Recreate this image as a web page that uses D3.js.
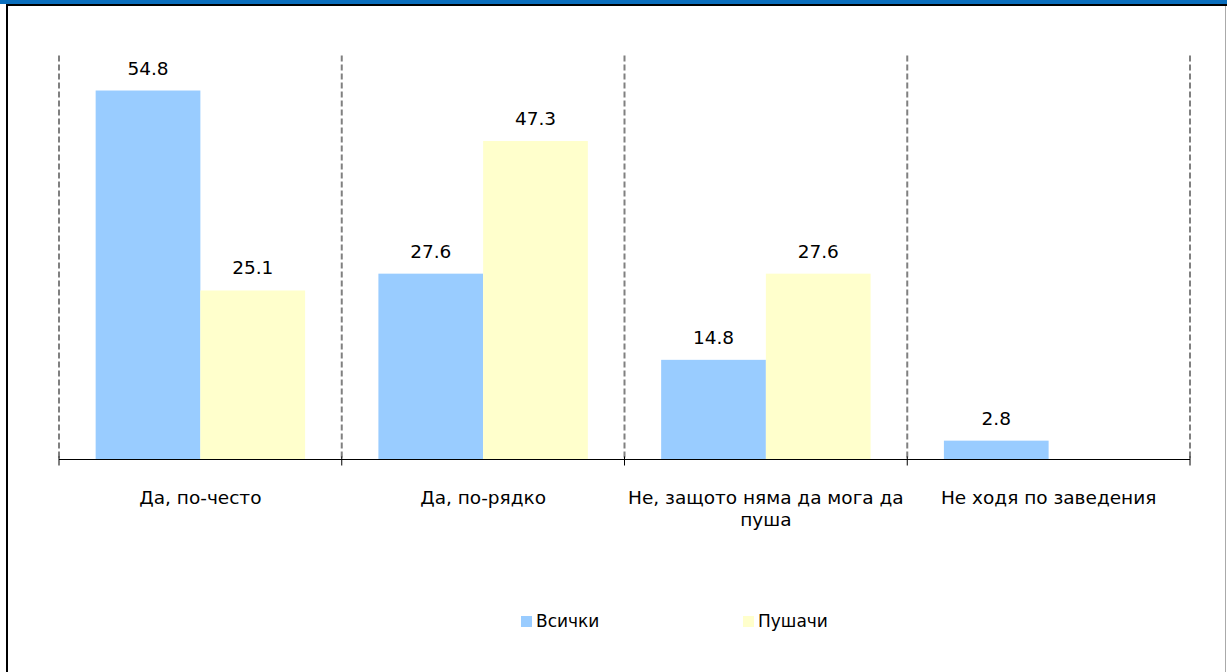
<!DOCTYPE html>
<html>
<head>
<meta charset="utf-8">
<script src="https://cdn.jsdelivr.net/npm/d3@7"></script>
<style>
  body { margin: 0; background: #fff; }
  svg { display: block; font-family: "DejaVu Sans", Verdana, sans-serif; }
</style>
</head>
<body>
<div id="chart"></div>
<script>
const categories = ['Да, по-често', 'Да, по-рядко', 'Не, защото няма да мога да пуша', 'Не ходя по заведения']
const seriesNames = ['Всички', 'Пушачи']
const allValues = [54.8, 27.6, 14.8, 2.8]
const smokerValues = [25.1, 47.3, 27.6, null]
const colors = ['#99ccff', '#ffffcc']

const width = 1227
const height = 672
const margin = { top: 55.5, left: 59, right: 37, bottom: 212.5 }

const svg = d3.select('#chart').append('svg')
  .attr('width', width)
  .attr('height', height)

// frame
svg.append('rect').attr('x', 0).attr('y', 0).attr('width', width).attr('height', 4).attr('fill', '#0a6ebd')
svg.append('rect').attr('x', 6).attr('y', 4).attr('width', 2).attr('height', height - 4).attr('fill', '#000')
svg.append('rect').attr('x', 6).attr('y', 4).attr('width', width - 6).attr('height', 2).attr('fill', '#000')
svg.append('rect').attr('x', width - 2).attr('y', 6).attr('width', 1).attr('height', height - 6).attr('fill', '#aaa')

const x0 = d3.scaleBand()
  .domain(categories)
  .range([margin.left, width - margin.right])

const x1 = d3.scaleBand()
  .domain([0, 1])
  .range([0, x0.bandwidth()])
  .paddingOuter(0.35)

const y = d3.scaleLinear()
  .domain([0, 60])
  .range([height - margin.bottom, margin.top])

const data = categories.map((c, i) => ({ cat: c, vals: [allValues[i], smokerValues[i]] }))

// dashed separators
const edges = categories.map(c => x0(c)).concat([x0.range()[1]])
svg.append('g').selectAll('line')
  .data(edges)
  .join('line')
  .attr('x1', d => d).attr('x2', d => d)
  .attr('y1', y(60)).attr('y2', y(0))
  .attr('stroke', '#808080')
  .attr('stroke-width', 2)
  .attr('stroke-dasharray', '6,3')

const groups = svg.append('g').selectAll('g')
  .data(data)
  .join('g')
  .attr('transform', d => `translate(${x0(d.cat)},0)`)

groups.selectAll('rect')
  .data(d => d.vals.map((v, i) => ({ v, i })).filter(e => e.v != null))
  .join('rect')
  .attr('x', d => x1(d.i))
  .attr('width', x1.bandwidth())
  .attr('y', d => y(d.v))
  .attr('height', d => y(0) - y(d.v))
  .attr('fill', d => colors[d.i])

groups.selectAll('text.val')
  .data(d => d.vals.map((v, i) => ({ v, i })).filter(e => e.v != null))
  .join('text')
  .attr('class', 'val')
  .attr('x', d => x1(d.i) + x1.bandwidth() / 2)
  .attr('y', d => y(d.v) - 16)
  .attr('text-anchor', 'middle')
  .attr('font-size', 18.5)
  .attr('fill', '#000')
  .text(d => d.v.toFixed(1))

// x axis
const xAxis = svg.append('g')
  .attr('transform', `translate(0,${y(0)})`)
xAxis.append('line')
  .attr('x1', x0.range()[0]).attr('x2', x0.range()[1])
  .attr('stroke', '#000')
xAxis.selectAll('line.tick')
  .data(edges)
  .join('line')
  .attr('class', 'tick')
  .attr('x1', d => d).attr('x2', d => d)
  .attr('y1', -3).attr('y2', 6)
  .attr('stroke', '#000')

const wrapped = {
  'Не, защото няма да мога да пуша': ['Не, защото няма да мога да', 'пуша']
}
xAxis.selectAll('text')
  .data(categories)
  .join('text')
  .attr('x', d => x0(d) + x0.bandwidth() / 2)
  .attr('y', 44)
  .attr('text-anchor', 'middle')
  .attr('font-size', 18.5)
  .attr('fill', '#000')
  .each(function (d) {
    const lines = wrapped[d] || [d]
    d3.select(this).selectAll('tspan')
      .data(lines)
      .join('tspan')
      .attr('x', x0(d) + x0.bandwidth() / 2)
      .attr('dy', (l, i) => i === 0 ? 0 : 22)
      .text(l => l)
  })

// legend
const legendX = [521, 743]
const legend = svg.append('g').selectAll('g')
  .data(seriesNames)
  .join('g')
  .attr('transform', (d, i) => `translate(${legendX[i]},616)`)
legend.append('rect')
  .attr('width', 11).attr('height', 11)
  .attr('fill', (d, i) => colors[i])
legend.append('text')
  .attr('x', 15).attr('y', 11)
  .attr('font-size', 17)
  .attr('fill', '#000')
  .text(d => d)
</script>
</body>
</html>
